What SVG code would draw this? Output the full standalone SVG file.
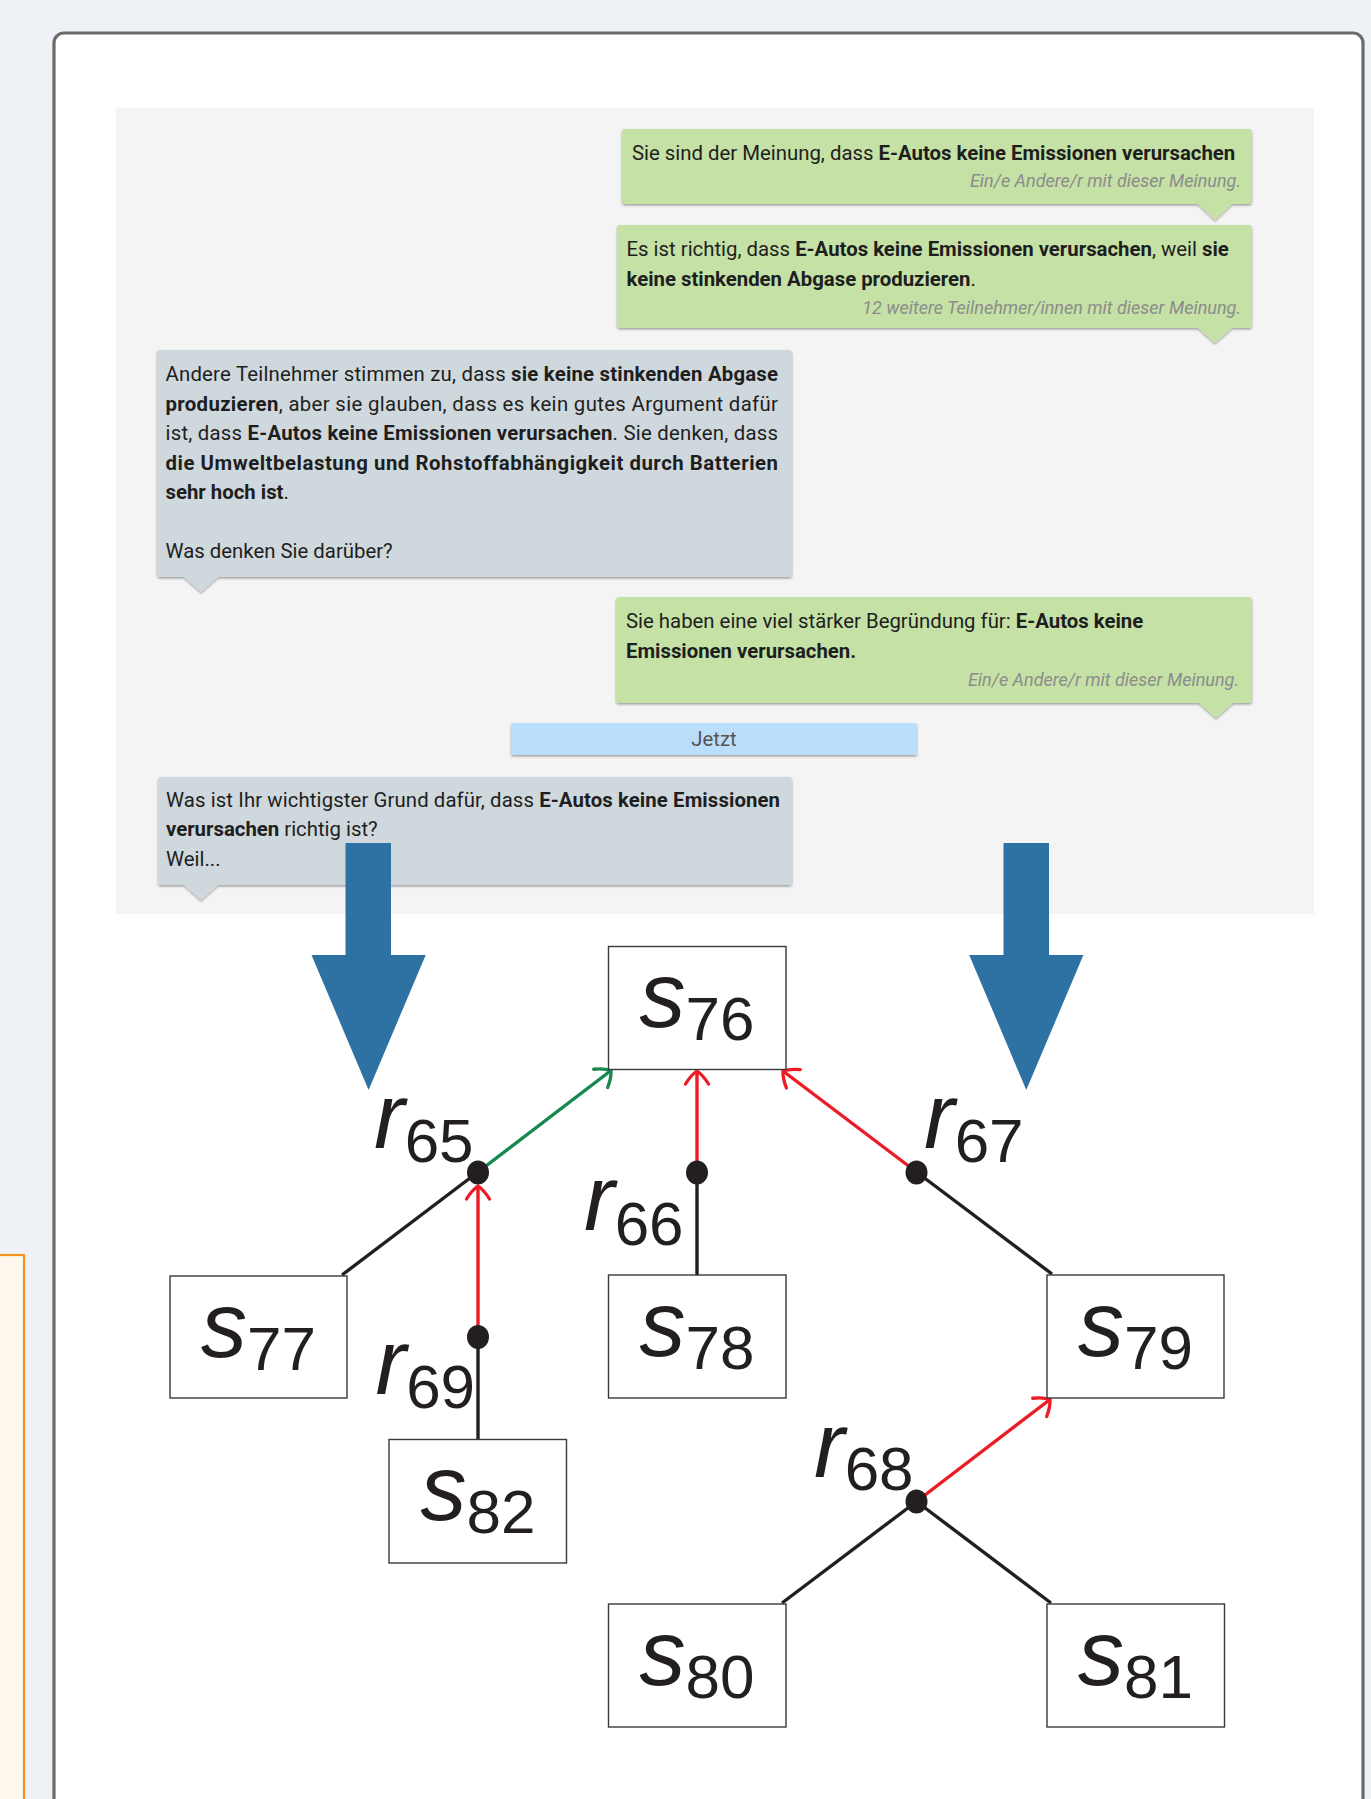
<svg xmlns="http://www.w3.org/2000/svg" width="1371" height="1799" viewBox="0 0 1371 1799">
<defs>
<style>
.t{font-family:Roboto,"Liberation Sans",Arial,sans-serif;font-size:20.35px;fill:#1e1e1e}
.b{font-weight:bold}
.note{font-family:Roboto,"Liberation Sans",Arial,sans-serif;font-size:18px;font-style:italic;fill:#8c8c8c}
.green{fill:#c5e1a5}
.grey{fill:#cfd8dc}
.box{fill:#fff;stroke:#3a3a3a;stroke-width:1.4}
.lbl{font-family:"Liberation Sans",Arial,Helvetica,sans-serif;fill:#231f20}
.it{font-style:italic;font-size:92px}
.sub{font-size:62px}
.k{stroke:#231f20;stroke-width:3.4;fill:none}
.red{stroke:#ed1c24;stroke-width:3.4;fill:none}
.grn{stroke:#17894f;stroke-width:3.4;fill:none}
.dot{fill:#231f20}
.blue{fill:#2d72a2}
</style>
<filter id="sh" x="-3%" y="-5%" width="106%" height="120%">
<feDropShadow dx="0" dy="1.5" stdDeviation="1" flood-color="#000" flood-opacity="0.35"/>
</filter>
<marker id="ahR" viewBox="-16 -14 18 28" refX="0" refY="0" markerWidth="18" markerHeight="28" markerUnits="userSpaceOnUse" orient="auto">
<path d="M -13,-11.5 Q -4,-6 0,0 Q -4,6 -13,11.5" fill="none" stroke="#ed1c24" stroke-width="3.3" stroke-linecap="round"/>
</marker>
<marker id="ahG" viewBox="-16 -14 18 28" refX="0" refY="0" markerWidth="18" markerHeight="28" markerUnits="userSpaceOnUse" orient="auto">
<path d="M -13,-11.5 Q -4,-6 0,0 Q -4,6 -13,11.5" fill="none" stroke="#17894f" stroke-width="3.3" stroke-linecap="round"/>
</marker>
</defs>

<rect x="0" y="0" width="1371" height="1799" fill="#eef2f7"/>
<rect id="orange-panel" x="-10" y="1255" width="34" height="600" fill="#fef8ef" stroke="#f7941d" stroke-width="2.2"/>
<rect id="card" x="54" y="33" width="1309" height="1800" rx="10" fill="#fff" stroke="#6b6b6b" stroke-width="3.2"/>

<rect id="chat-area" x="116" y="108" width="1198" height="806" fill="#f4f4f4"/>

<g id="msg1" filter="url(#sh)">
<path class="green" d="M625,129 H1249 Q1252,129 1252,132 V201 Q1252,204 1249,204 H1232 L1215,220 L1198,204 H625 Q622,204 622,201 V132 Q622,129 625,129 Z"/>
</g>
<text class="t" x="632" y="160">Sie sind der Meinung, dass <tspan class="b">E-Autos keine Emissionen verursachen</tspan></text>
<text class="note" x="1241" y="187" text-anchor="end">Ein/e Andere/r mit dieser Meinung.</text>

<g id="msg2" filter="url(#sh)">
<path class="green" d="M620,225 H1249 Q1252,225 1252,228 V325 Q1252,328 1249,328 H1232 L1215,343 L1198,328 H620 Q617,328 617,325 V228 Q617,225 620,225 Z"/>
</g>
<text class="t" x="626.5" y="256">Es ist richtig, dass <tspan class="b">E-Autos keine Emissionen verursachen</tspan>, weil <tspan class="b">sie</tspan></text>
<text class="t" x="626.5" y="286"><tspan class="b">keine stinkenden Abgase produzieren</tspan>.</text>
<text class="note" x="1241" y="313.5" text-anchor="end">12 weitere Teilnehmer/innen mit dieser Meinung.</text>

<g id="msg3" filter="url(#sh)">
<path class="grey" d="M160,350 H789 Q792,350 792,353 V574 Q792,577 789,577 H218 L201,592 L184,577 H160 Q157,577 157,574 V353 Q157,350 160,350 Z"/>
</g>
<text class="t" x="165.5" y="381" textLength="612.5" lengthAdjust="spacing">Andere Teilnehmer stimmen zu, dass <tspan class="b">sie keine stinkenden Abgase</tspan></text>
<text class="t" x="165.5" y="410.5" textLength="612.5" lengthAdjust="spacing"><tspan class="b">produzieren</tspan>, aber sie glauben, dass es kein gutes Argument dafür</text>
<text class="t" x="165.5" y="440" textLength="612.5" lengthAdjust="spacing">ist, dass <tspan class="b">E-Autos keine Emissionen verursachen</tspan>. Sie denken, dass</text>
<text class="t b" x="165.5" y="469.5" textLength="612.5" lengthAdjust="spacing">die Umweltbelastung und Rohstoffabhängigkeit durch Batterien</text>
<text class="t" x="165.5" y="499"><tspan class="b">sehr hoch ist</tspan>.</text>
<text class="t" x="165.5" y="558">Was denken Sie darüber?</text>

<g id="msg4" filter="url(#sh)">
<path class="green" d="M619,597 H1249 Q1252,597 1252,600 V700 Q1252,703 1249,703 H1233 L1216,718 L1199,703 H619 Q616,703 616,700 V600 Q616,597 619,597 Z"/>
</g>
<text class="t" x="626" y="628">Sie haben eine viel stärker Begründung für: <tspan class="b">E-Autos keine</tspan></text>
<text class="t b" x="626" y="658">Emissionen verursachen.</text>
<text class="note" x="1239" y="685.5" text-anchor="end">Ein/e Andere/r mit dieser Meinung.</text>

<g id="time-bar" filter="url(#sh)">
<rect x="511" y="723" width="406" height="32" rx="2" fill="#bbdefb"/>
</g>
<text class="t" x="714" y="745.5" text-anchor="middle" style="fill:#555">Jetzt</text>

<g id="msg5" filter="url(#sh)">
<path class="grey" d="M161,777 H789 Q792,777 792,780 V882 Q792,885 789,885 H218 L201,900 L184,885 H161 Q158,885 158,882 V780 Q158,777 161,777 Z"/>
</g>
<text class="t" x="166" y="807" textLength="614" lengthAdjust="spacing">Was ist Ihr wichtigster Grund dafür, dass <tspan class="b">E-Autos keine Emissionen</tspan></text>
<text class="t" x="166" y="836"><tspan class="b">verursachen</tspan> richtig ist?</text>
<text class="t" x="166" y="865.5">Weil...</text>

<g id="blue-arrow-left">
<rect class="blue" x="345.5" y="843" width="45.5" height="113"/>
<polygon class="blue" points="311.5,955 425.7,955 368.6,1090"/>
</g>
<g id="blue-arrow-right">
<rect class="blue" x="1003.5" y="843" width="45.5" height="113"/>
<polygon class="blue" points="969.2,955 1083.4,955 1026.3,1090"/>
</g>

<g id="connectors">
<line class="grn" x1="478" y1="1172" x2="611" y2="1070.5" marker-end="url(#ahG)"/>
<line class="k" x1="342" y1="1275" x2="478" y2="1172"/>
<line class="red" x1="697" y1="1172" x2="697" y2="1071" marker-end="url(#ahR)"/>
<line class="k" x1="697" y1="1275" x2="697" y2="1172"/>
<line class="red" x1="916.5" y1="1172" x2="783" y2="1071" marker-end="url(#ahR)"/>
<line class="k" x1="1052" y1="1274" x2="916.5" y2="1172"/>
<line class="red" x1="478" y1="1337" x2="478" y2="1186" marker-end="url(#ahR)"/>
<line class="k" x1="478" y1="1439" x2="478" y2="1337"/>
<line class="red" x1="916.5" y1="1501.5" x2="1050" y2="1399.5" marker-end="url(#ahR)"/>
<line class="k" x1="782" y1="1603" x2="916.5" y2="1501.5"/>
<line class="k" x1="1051" y1="1603" x2="916.5" y2="1501.5"/>
</g>

<g id="r65"><ellipse class="dot" cx="478" cy="1172.5" rx="11" ry="12"/><text class="lbl" x="374" y="1148"><tspan class="it">r</tspan><tspan class="sub" dy="14">65</tspan></text></g>
<g id="r66"><ellipse class="dot" cx="697" cy="1172.5" rx="11" ry="12"/><text class="lbl" x="584" y="1230"><tspan class="it">r</tspan><tspan class="sub" dy="15">66</tspan></text></g>
<g id="r67"><ellipse class="dot" cx="916.5" cy="1172.5" rx="11" ry="12"/><text class="lbl" x="924" y="1148"><tspan class="it">r</tspan><tspan class="sub" dy="14">67</tspan></text></g>
<g id="r69"><ellipse class="dot" cx="478" cy="1337" rx="11" ry="12"/><text class="lbl" x="375.5" y="1394"><tspan class="it">r</tspan><tspan class="sub" dy="13.5">69</tspan></text></g>
<g id="r68"><ellipse class="dot" cx="916.5" cy="1501.5" rx="11" ry="12"/><text class="lbl" x="814" y="1477"><tspan class="it">r</tspan><tspan class="sub" dy="13">68</tspan></text></g>

<g id="s76"><rect class="box" x="608.5" y="946.5" width="177.5" height="123"/><text class="lbl" x="697" y="1027" text-anchor="middle"><tspan class="it">s</tspan><tspan class="sub" dy="13">76</tspan></text></g>
<g id="s77"><rect class="box" x="170" y="1276" width="177" height="122"/><text class="lbl" x="258.5" y="1356.5" text-anchor="middle"><tspan class="it">s</tspan><tspan class="sub" dy="13">77</tspan></text></g>
<g id="s78"><rect class="box" x="608.5" y="1275" width="177.5" height="123"/><text class="lbl" x="697" y="1355.5" text-anchor="middle"><tspan class="it">s</tspan><tspan class="sub" dy="13">78</tspan></text></g>
<g id="s79"><rect class="box" x="1047" y="1275" width="177" height="123"/><text class="lbl" x="1135.5" y="1355.5" text-anchor="middle"><tspan class="it">s</tspan><tspan class="sub" dy="13">79</tspan></text></g>
<g id="s82"><rect class="box" x="389" y="1439.5" width="177.5" height="123.5"/><text class="lbl" x="478" y="1519.5" text-anchor="middle"><tspan class="it">s</tspan><tspan class="sub" dy="13">82</tspan></text></g>
<g id="s80"><rect class="box" x="608.5" y="1604" width="177.5" height="123"/><text class="lbl" x="697" y="1684.5" text-anchor="middle"><tspan class="it">s</tspan><tspan class="sub" dy="13">80</tspan></text></g>
<g id="s81"><rect class="box" x="1047" y="1604" width="177.5" height="123"/><text class="lbl" x="1135.5" y="1684.5" text-anchor="middle"><tspan class="it">s</tspan><tspan class="sub" dy="13">81</tspan></text></g>
</svg>
